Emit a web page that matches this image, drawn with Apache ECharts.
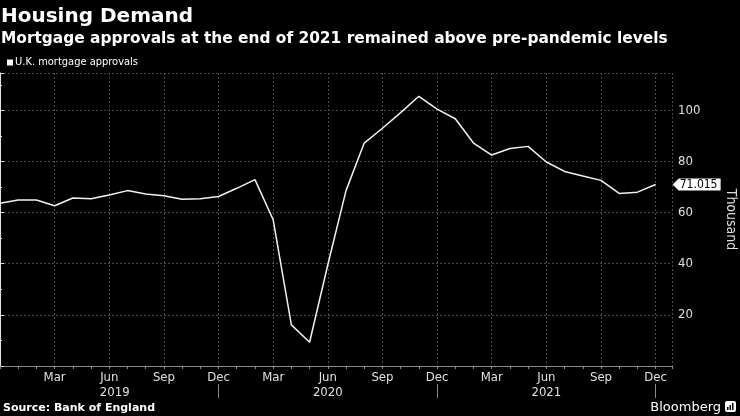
<!DOCTYPE html>
<html>
<head>
<meta charset="utf-8">
<script src="https://cdn.jsdelivr.net/npm/echarts@6/dist/echarts.min.js"></script>
<style>
html,body{margin:0;padding:0;background:#000;}
#chart{width:740px;height:416px;}
</style>
</head>
<body>
<div id="chart"></div>
<script>
// ---- data ----
const dates = [
  '2018-12',
  '2019-01','2019-02','2019-03','2019-04','2019-05','2019-06','2019-07','2019-08','2019-09','2019-10','2019-11','2019-12',
  '2020-01','2020-02','2020-03','2020-04','2020-05','2020-06','2020-07','2020-08','2020-09','2020-10','2020-11','2020-12',
  '2021-01','2021-02','2021-03','2021-04','2021-05','2021-06','2021-07','2021-08','2021-09','2021-10','2021-11','2021-12'
];
const approvals = [
  63.7,
  64.9, 64.9, 62.7, 65.7, 65.4, 66.9, 68.6, 67.3, 66.6, 65.2, 65.4, 66.3,
  69.5, 72.9, 57.2, 16.1, 9.3, 39.6, 68.6, 87.2, 93.0, 99.1, 105.5, 100.5,
  96.7, 87.2, 82.5, 85.1, 85.9, 79.8, 76.1, 74.3, 72.6, 67.5, 68.0, 71.015
];
const monthTickLabels = ['Mar', 'Jun', 'Sep', 'Dec'];
const monthNames = ['Jan','Feb','Mar','Apr','May','Jun','Jul','Aug','Sep','Oct','Nov','Dec'];
const yearLabels = ['2019', '2020', '2021'];
const yTickLabels = [20, 40, 60, 80, 100];
const seriesName = 'U.K. mortgage approvals';
const titleText = 'Housing Demand';
const subtitleText = 'Mortgage approvals at the end of 2021 remained above pre-pandemic levels';
const sourceText = 'Source: Bank of England';
const yAxisName = 'Thousand';

// ---- derived ----
const lastIdx = dates.length - 1;
const lineData = approvals.map((v, i) => [i, v]);
const decIdx = dates.map((d, i) => d.endsWith('-12') ? i : -1).filter(i => i > 0);
const yearPos = yearLabels.map(y => {
  const end = dates.indexOf(y + '-12');
  const start = Math.max(0.6, end - 12);
  return (start + end) / 2;
});
const FONT = "'DejaVu Sans Condensed', 'DejaVu Sans', sans-serif";

const chart = echarts.init(document.getElementById('chart'), null, {renderer: 'canvas'});
chart.setOption({
  backgroundColor: '#000',
  animation: false,
  textStyle: {fontFamily: FONT},
  title: [
    {text: titleText, left: 0, top: 7, padding: [0,0,0,1],
     textStyle: {color: '#fff', fontSize: 20, fontWeight: 'bold', fontFamily: "'DejaVu Sans', sans-serif"}},
    {text: subtitleText, left: 0, top: 31, padding: [0,0,0,1],
     textStyle: {color: '#fff', fontSize: 15.4, fontWeight: 'bold', fontFamily: "'DejaVu Sans', sans-serif"}},
    {text: sourceText, left: 0, bottom: 2, padding: [0,0,0,3],
     textStyle: {color: '#fff', fontSize: 11, fontWeight: 'bold', fontFamily: "'DejaVu Sans', sans-serif"}},
    {text: 'Bloomberg', right: 19, bottom: 2, padding: 0,
     textStyle: {color: '#fff', fontSize: 13, fontWeight: 'normal', fontFamily: "'DejaVu Sans', sans-serif"}}
  ],
  legend: {
    data: [seriesName], left: 7, top: 57, padding: 0,
    icon: 'rect', itemWidth: 6, itemHeight: 6,
    textStyle: {color: '#fff', fontSize: 11, padding: [0,0,0,-3], fontFamily: FONT}
  },
  grid: {left: 0, right: 68, top: 73, bottom: 50, containLabel: false, outerBoundsMode: 'none'},
  xAxis: [
    {
      type: 'value', min: 0, max: lastIdx + 0.9, interval: 3,
      axisLine: {show: true, lineStyle: {color: '#8a8a8a', width: 1}},
      axisTick: {show: true, length: 3, lineStyle: {color: '#8a8a8a'}},
      minorTick: {show: true, splitNumber: 3, length: 3, lineStyle: {color: '#8a8a8a'}},
      splitLine: {show: true, lineStyle: {color: '#4a4a4a', type: [2, 2], width: 1}},
      axisLabel: {
        color: '#e0e0e0', fontSize: 13, margin: 5, fontFamily: FONT,
        formatter: v => {
          if (v <= 0 || Math.abs(v - Math.round(v)) > 1e-6) return '';
          const d = dates[Math.round(v)];
          if (!d) return '';
          const m = monthNames[parseInt(d.slice(5), 10) - 1];
          return monthTickLabels.indexOf(m) >= 0 ? m : '';
        }
      }
    },
    {
      type: 'value', min: 0, max: lastIdx + 0.9, position: 'bottom', offset: 18,
      axisLine: {show: false},
      axisTick: {show: true, customValues: decIdx, length: 14, lineStyle: {color: '#8a8a8a'}},
      splitLine: {show: false},
      axisLabel: {
        color: '#e0e0e0', fontSize: 13, margin: 2, fontFamily: FONT,
        customValues: yearPos,
        formatter: v => {
          const i = yearPos.findIndex(p => Math.abs(p - v) < 1e-6);
          return i >= 0 ? yearLabels[i] : '';
        }
      }
    }
  ],
  yAxis: {
    type: 'value', position: 'right', min: 0, max: 114.6, interval: 20,
    name: yAxisName, nameLocation: 'middle', nameRotate: -90, nameGap: 52,
    nameTextStyle: {color: '#e0e0e0', fontSize: 14, fontFamily: FONT},
    axisLine: {show: true, lineStyle: {color: '#e0e0e0', width: 1}},
    axisTick: {show: true, length: 4, lineStyle: {color: '#e0e0e0'}},
    minorTick: {show: true, splitNumber: 2, length: 2, lineStyle: {color: '#e0e0e0'}},
    splitLine: {show: true, lineStyle: {color: '#4a4a4a', type: [2, 2], width: 1}},
    axisLabel: {
      color: '#e0e0e0', fontSize: 13, margin: 6, fontFamily: FONT,
      formatter: v => yTickLabels.indexOf(v) >= 0 ? String(v) : ''
    }
  },
  series: [{
    name: seriesName, type: 'line', data: lineData,
    showSymbol: false, symbol: 'none',
    itemStyle: {color: '#ffffff'},
    lineStyle: {color: '#f2f2f2', width: 1.5},
    markPoint: {
      silent: true,
      symbol: 'path://M0,6 L6,0 L48,0 L48,12 L6,12 Z',
      symbolSize: [48, 12], symbolKeepAspect: false,
      symbolOffset: [41, 0],
      itemStyle: {color: '#ffffff'},
      label: {show: true, position: 'inside', offset: [2, 0], color: '#000', fontSize: 12, fontFamily: FONT,
        formatter: () => String(approvals[lastIdx])},
      data: [{coord: [lastIdx, approvals[lastIdx]]}]
    }
  }],
  graphic: [{
    type: 'group', right: 4, bottom: 4,
    children: [
      {type: 'rect', shape: {x: 0, y: 0, width: 11, height: 11, r: 2}, style: {fill: '#fff'}},
      {type: 'rect', shape: {x: 2, y: 6, width: 1.5, height: 3}, style: {fill: '#000'}},
      {type: 'rect', shape: {x: 4.5, y: 4, width: 1.5, height: 5}, style: {fill: '#000'}},
      {type: 'rect', shape: {x: 7, y: 2, width: 1.5, height: 7}, style: {fill: '#000'}}
    ]
  }]
});
</script>
</body>
</html>
